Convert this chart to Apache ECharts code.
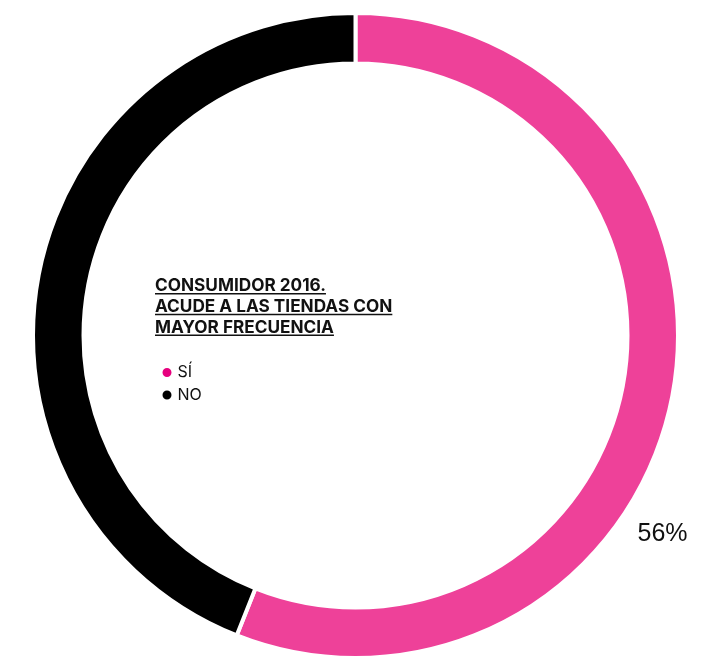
<!DOCTYPE html>
<html>
<head>
<meta charset="utf-8">
<script src="https://cdn.jsdelivr.net/npm/echarts@6/dist/echarts.min.js"></script>
<style>
  html, body { margin: 0; padding: 0; background: #fff; }
  #chart { width: 713px; height: 657px; }
</style>
</head>
<body>
<div id="chart"></div>
<script>
// data
const categories = ['SÍ', 'NO'];
const values = [56, 44];
const ringColors = ['#ee4199', '#000000'];
const legendColors = ['#e6007e', '#000000'];
const titleLines = ['CONSUMIDOR 2016.', 'ACUDE A LAS TIENDAS CON', 'MAYOR FRECUENCIA'];

const titleFont = 'bold 17.2px Inter';
const measureCtx = document.createElement('canvas').getContext('2d');
measureCtx.font = titleFont;

const titleTop = 277.5;
const titleStep = 20.7;
const graphics = [];
titleLines.forEach(function (line, i) {
  const top = titleTop + i * titleStep;
  graphics.push({
    type: 'text', left: 155, top: top,
    style: { text: line, font: titleFont, fill: '#111' }
  });
  graphics.push({
    type: 'rect', left: 155, top: top + 15.5,
    shape: { width: measureCtx.measureText(line).width, height: 1.5 },
    style: { fill: '#111' }
  });
});

const total = values.reduce(function (a, b) { return a + b; }, 0);
const legendText = { fontFamily: 'Inter', fontSize: 16, color: '#111', lineHeight: 15 };

const myChart = echarts.init(document.getElementById('chart'));
myChart.setOption({
  animation: false,
  graphic: graphics,
  legend: {
    orient: 'vertical',
    left: 160.5,
    top: 364.5,
    padding: 0,
    icon: 'circle',
    itemWidth: 11,
    itemHeight: 11,
    itemGap: 6.5,
    textStyle: legendText,
    data: categories.map(function (c, i) {
      return { name: c, itemStyle: { color: legendColors[i] }, textStyle: legendText };
    })
  },
  series: [
    {
      type: 'pie',
      center: [355.5, 335.5],
      radius: [272, 322.5],
      startAngle: 90,
      clockwise: true,
      avoidLabelOverlap: false,
      itemStyle: { borderColor: '#fff', borderWidth: 4 },
      emphasis: { disabled: true },
      labelLine: { show: false },
      label: {
        show: true,
        position: 'outside',
        fontFamily: 'Liberation Sans, Arial, sans-serif',
        fontSize: 25,
        color: '#111',
        formatter: function (p) { return Math.round(p.value / total * 100) + '%'; }
      },
      labelLayout: function (p) {
        return { x: 662.5, y: 534, align: 'center', verticalAlign: 'middle' };
      },
      data: categories.map(function (c, i) {
        return {
          name: c,
          value: values[i],
          itemStyle: { color: ringColors[i] },
          label: { show: i === 0 }
        };
      })
    }
  ]
});
</script>
</body>
</html>
